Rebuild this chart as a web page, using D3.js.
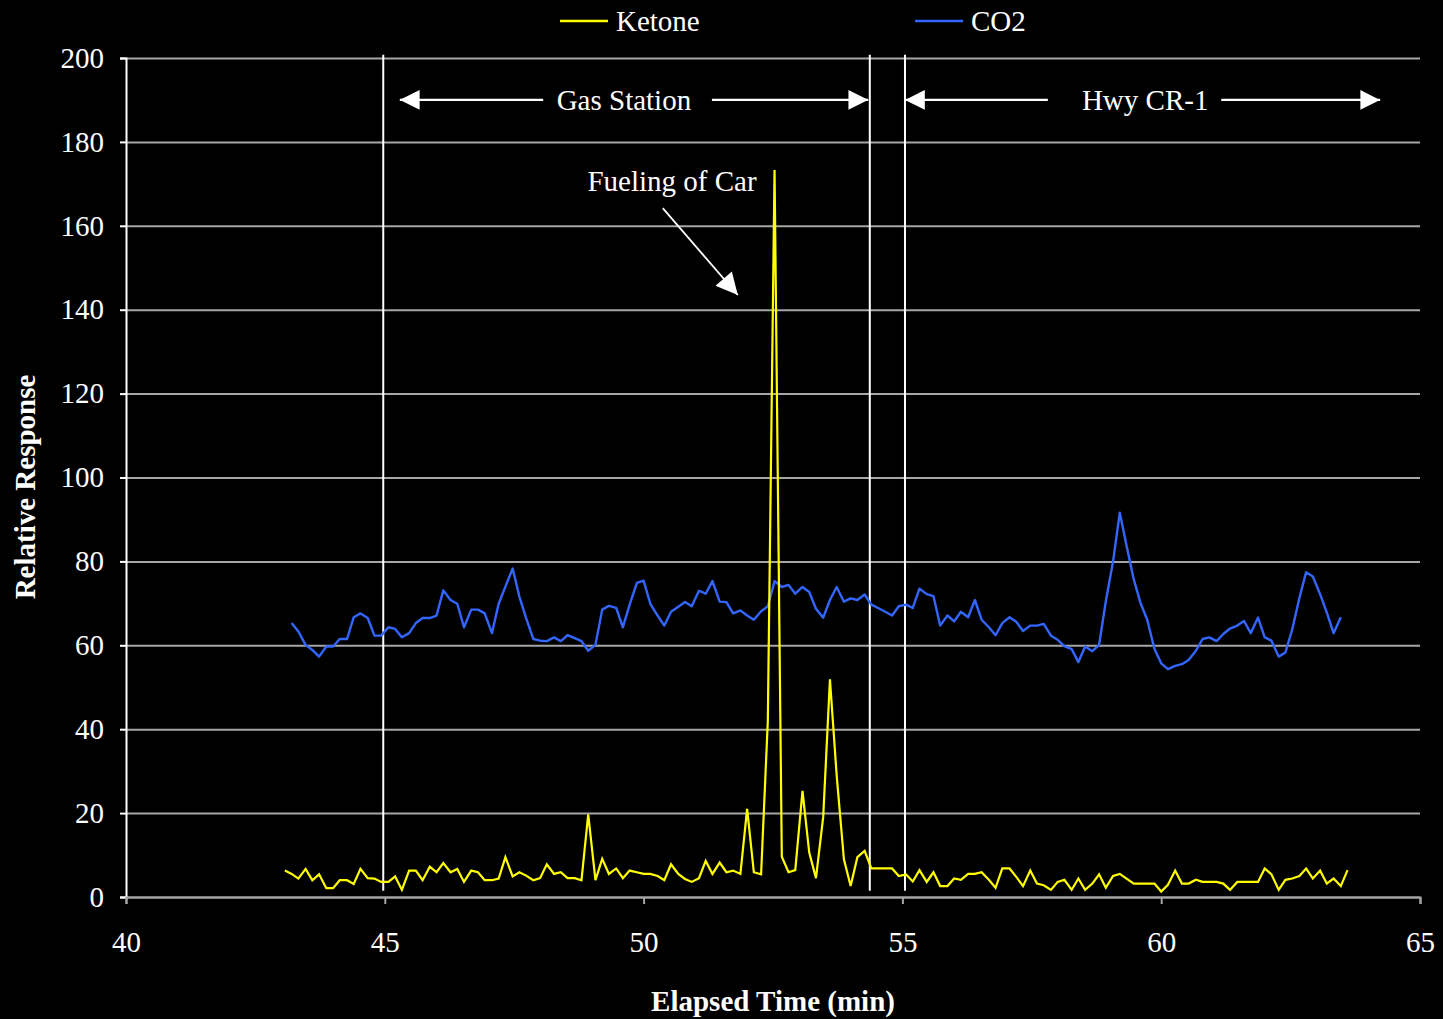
<!DOCTYPE html>
<html>
<head>
<meta charset="utf-8">
<script src="https://cdn.jsdelivr.net/npm/d3@7"></script>
<style>
  html, body { margin: 0; padding: 0; background: #000; }
  svg { display: block; }
  text { font-family: "Liberation Serif", "Times New Roman", serif; fill: #fff; }
</style>
</head>
<body>
<svg id="chart" width="1443" height="1019"></svg>
<script>
// ---- Data ----
const time = [
  43.07,43.20,43.33,43.47,43.60,43.73,43.87,
  44.00,44.13,44.27,44.40,44.53,44.67,44.80,44.93,
  45.07,45.20,45.33,45.47,45.60,45.73,45.87,
  46.00,46.13,46.27,46.40,46.53,46.67,46.80,46.93,
  47.07,47.20,47.33,47.47,47.60,47.73,47.87,
  48.00,48.13,48.27,48.40,48.53,48.67,48.80,48.93,
  49.07,49.20,49.33,49.47,49.60,49.73,49.87,
  50.00,50.13,50.27,50.40,50.53,50.67,50.80,50.93,
  51.07,51.20,51.33,51.47,51.60,51.73,51.87,
  52.00,52.13,52.27,52.40,52.53,52.67,52.80,52.93,
  53.07,53.20,53.33,53.47,53.60,53.73,53.87,
  54.00,54.13,54.27,54.40,54.53,54.67,54.80,54.93,
  55.07,55.20,55.33,55.47,55.60,55.73,55.87,
  56.00,56.13,56.27,56.40,56.53,56.67,56.80,56.93,
  57.07,57.20,57.33,57.47,57.60,57.73,57.87,
  58.00,58.13,58.27,58.40,58.53,58.67,58.80,58.93,
  59.07,59.20,59.33,59.47,59.60,59.73,59.87,
  60.00,60.13,60.27,60.40,60.53,60.67,60.80,60.93,
  61.07,61.20,61.33,61.47,61.60,61.73,61.87,
  62.00,62.13,62.27,62.40,62.53,62.67,62.80,62.93,
  63.07,63.20,63.33,63.47,63.60
];

const ketone = [
  6.3,5.5,4.4,6.7,4.0,5.4,2.1,2.1,4.0,4.0,
  3.1,6.7,4.5,4.4,3.6,3.6,4.9,1.7,6.3,6.3,
  4.0,7.2,5.9,8.1,5.9,6.7,3.6,6.3,5.9,4.0,
  4.0,4.4,9.5,4.9,5.9,5.1,4.0,4.5,7.8,5.5,
  5.9,4.5,4.5,4.0,19.7,4.0,9.1,5.5,6.8,4.5,
  6.3,5.9,5.5,5.5,5.0,4.0,7.8,5.5,4.3,3.6,
  4.5,8.6,5.5,8.2,5.9,6.3,5.5,21.0,5.9,5.4,
  42.0,173.3,9.6,5.9,6.4,25.3,10.6,4.5,19.1,51.9,
  29.0,9.0,2.6,9.5,11.0,6.8,6.8,6.8,6.8,5.0,
  5.4,3.7,6.4,3.6,5.9,2.6,2.6,4.4,4.1,5.5,
  5.5,5.9,4.1,2.2,6.8,6.8,4.8,2.6,6.3,3.2,
  2.8,1.7,3.6,4.1,1.7,4.4,1.7,3.2,5.4,2.2,
  5.0,5.5,4.4,3.2,3.2,3.2,3.2,1.3,2.9,6.3,
  3.2,3.2,4.1,3.6,3.6,3.6,3.2,1.7,3.6,3.6,
  3.6,3.6,6.8,5.4,1.7,4.1,4.4,5.0,6.8,4.4,
  6.3,3.2,4.4,2.6,6.4
];

// CO2 begins one sample after Ketone and ends one sample before it
const co2Time = time.slice(1, 154);
const co2 = [
  65.3,63.3,60.1,58.9,57.3,59.7,59.7,61.5,61.5,66.7,
  67.6,66.5,62.3,62.3,64.3,63.9,61.9,62.9,65.3,66.5,
  66.5,67.1,73.1,70.8,69.9,64.3,68.5,68.5,67.6,62.9,
  69.9,74.0,78.3,71.6,66.5,61.5,61.1,61.0,61.9,61.0,
  62.4,61.7,61.0,58.7,60.1,68.5,69.4,68.9,64.3,69.7,
  74.9,75.4,69.9,67.1,64.7,68.0,69.2,70.3,69.3,73.0,
  72.3,75.3,70.4,70.3,67.6,68.3,67.1,66.1,68.1,69.3,
  75.3,73.9,74.4,72.3,73.9,72.7,68.7,66.6,70.8,73.9,
  70.4,71.2,70.8,72.1,69.7,68.9,68.0,67.1,69.3,69.7,
  68.9,73.5,72.2,71.7,64.7,67.1,65.7,68.0,66.7,70.8,
  66.1,64.3,62.4,65.3,66.7,65.6,63.4,64.7,64.7,65.1,
  62.3,61.3,59.8,59.1,56.0,59.7,58.6,60.1,70.5,80.0,
  91.6,83.8,75.7,70.1,66.1,59.1,55.7,54.3,55.1,55.5,
  56.5,58.7,61.5,61.9,61.0,62.7,64.0,64.7,65.8,62.9,
  66.6,61.9,61.1,57.3,58.3,63.7,71.3,77.4,76.4,72.2,
  67.8,62.9,66.7
];

const xTicks = [40, 45, 50, 55, 60, 65];
const yTicks = [0, 20, 40, 60, 80, 100, 120, 140, 160, 180, 200];
const seriesNames = ["Ketone", "CO2"];
const seriesColors = ["#FFFF00", "#3366FF"];

// Event marker lines (elapsed time, min)
const markerTimes = [44.97, 54.37, 55.05];
// Range annotations: label, label centre, left arrow span, right arrow span (min)
const rangeLabels = ["Gas Station", "Hwy CR-1"];
const rangeLabelX = [49.62, 59.69];
const rangeLeftArrow = [[48.06, 45.29], [57.81, 55.05]];
const rangeRightArrow = [[51.32, 54.34], [61.16, 64.23]];
const rangeY = 190;
// Callout
const calloutText = "Fueling of Car";
const calloutPos = [50.55, 170.7];
const calloutArrow = [[50.37, 164.2], [51.82, 143.5]];

// ---- Chart ----
const svg = d3.select("#chart");
const x = d3.scaleLinear().domain([40, 65]).range([126, 1420]);
const y = d3.scaleLinear().domain([0, 200]).range([897, 58]);
const FONT = 29;

svg.append("rect").attr("width", 1443).attr("height", 1019).attr("fill", "#000");

const defs = svg.append("defs");
defs.append("marker")
  .attr("id", "ah").attr("viewBox", "0 0 10 10")
  .attr("refX", 10).attr("refY", 5)
  .attr("markerWidth", 9).attr("markerHeight", 9)
  .attr("markerUnits", "strokeWidth")
  .attr("orient", "auto")
  .append("path").attr("d", "M0,0 L10,5 L0,10 Z").attr("fill", "#fff");
defs.append("marker")
  .attr("id", "ah2").attr("viewBox", "0 0 10 10")
  .attr("refX", 10).attr("refY", 5)
  .attr("markerWidth", 13).attr("markerHeight", 12)
  .attr("markerUnits", "strokeWidth")
  .attr("orient", "auto")
  .append("path").attr("d", "M0,0 L10,5 L0,10 Z").attr("fill", "#fff");

// Gridlines
const grid = svg.append("g")
  .attr("transform", `translate(${x(40)},0)`)
  .call(d3.axisLeft(y).tickValues(yTicks).tickSize(-(x(65) - x(40))).tickFormat(""));
grid.select(".domain").remove();
grid.selectAll(".tick line").attr("stroke", "#A6A6A6").attr("stroke-width", 2);

// Y axis
const yAxis = svg.append("g")
  .attr("transform", `translate(${x(40)},0)`)
  .call(d3.axisLeft(y).tickValues(yTicks).tickSize(6).tickPadding(16));
yAxis.select(".domain").attr("stroke", "#fff").attr("stroke-width", 2);
yAxis.selectAll(".tick line").attr("stroke", "#fff").attr("stroke-width", 2);
yAxis.selectAll(".tick text")
  .attr("fill", "#fff").attr("font-size", FONT)
  .attr("font-family", "Liberation Serif, Times New Roman, serif");

// X axis
const xAxis = svg.append("g")
  .attr("transform", `translate(0,${y(0)})`)
  .call(d3.axisBottom(x).tickValues(xTicks).tickSize(7).tickPadding(27));
xAxis.select(".domain").attr("stroke", "#A6A6A6").attr("stroke-width", 2);
xAxis.selectAll(".tick line").attr("stroke", "#A6A6A6").attr("stroke-width", 2);
xAxis.selectAll(".tick text")
  .attr("fill", "#fff").attr("font-size", FONT)
  .attr("font-family", "Liberation Serif, Times New Roman, serif");

// Marker lines
svg.append("g").selectAll("line").data(markerTimes).join("line")
  .attr("x1", d => x(d)).attr("x2", d => x(d))
  .attr("y1", y(200.8)).attr("y2", y(1.5))
  .attr("stroke", "#fff").attr("stroke-width", 2);

// Series
const line = d3.line().x(d => x(d[0])).y(d => y(d[1]));
const ketoneData = time.map((t, i) => [t, ketone[i]]);
const co2Data = co2Time.map((t, i) => [t, co2[i]]);

svg.append("path").datum(co2Data)
  .attr("d", line).attr("fill", "none")
  .attr("stroke", seriesColors[1]).attr("stroke-width", 2.4)
  .attr("stroke-linejoin", "round");
svg.append("path").datum(ketoneData)
  .attr("d", line).attr("fill", "none")
  .attr("stroke", seriesColors[0]).attr("stroke-width", 2.2)
  .attr("stroke-linejoin", "miter");

// Range annotations
rangeLabels.forEach((lab, i) => {
  svg.append("text")
    .attr("x", x(rangeLabelX[i])).attr("y", y(rangeY))
    .attr("text-anchor", "middle").attr("dominant-baseline", "central")
    .attr("font-size", FONT).text(lab);
  [rangeLeftArrow[i], rangeRightArrow[i]].forEach(seg => {
    svg.append("line")
      .attr("x1", x(seg[0])).attr("y1", y(rangeY))
      .attr("x2", x(seg[1])).attr("y2", y(rangeY))
      .attr("stroke", "#fff").attr("stroke-width", 2.2)
      .attr("marker-end", "url(#ah)");
  });
});

// Callout
svg.append("text")
  .attr("x", x(calloutPos[0])).attr("y", y(calloutPos[1]))
  .attr("text-anchor", "middle").attr("dominant-baseline", "central")
  .attr("font-size", FONT).text(calloutText);
svg.append("line")
  .attr("x1", x(calloutArrow[0][0])).attr("y1", y(calloutArrow[0][1]))
  .attr("x2", x(calloutArrow[1][0])).attr("y2", y(calloutArrow[1][1]))
  .attr("stroke", "#fff").attr("stroke-width", 1.8)
  .attr("marker-end", "url(#ah2)");

// Axis titles
svg.append("text")
  .attr("x", 773).attr("y", 1001)
  .attr("text-anchor", "middle").attr("dominant-baseline", "central")
  .attr("font-size", FONT).attr("font-weight", "bold")
  .text("Elapsed Time (min)");
svg.append("text")
  .attr("transform", "translate(25,487) rotate(-90)")
  .attr("text-anchor", "middle").attr("dominant-baseline", "central")
  .attr("font-size", FONT).attr("font-weight", "bold")
  .text("Relative Response");

// Legend
const legendX = [560, 915];
seriesNames.forEach((name, i) => {
  const g = svg.append("g").attr("transform", `translate(${legendX[i]},21)`);
  g.append("line").attr("x1", 0).attr("x2", 48).attr("y1", 0).attr("y2", 0)
    .attr("stroke", seriesColors[i]).attr("stroke-width", 2.4);
  g.append("text").attr("x", 56).attr("y", 0)
    .attr("dominant-baseline", "central")
    .attr("font-size", FONT).text(name);
});
</script>
</body>
</html>
